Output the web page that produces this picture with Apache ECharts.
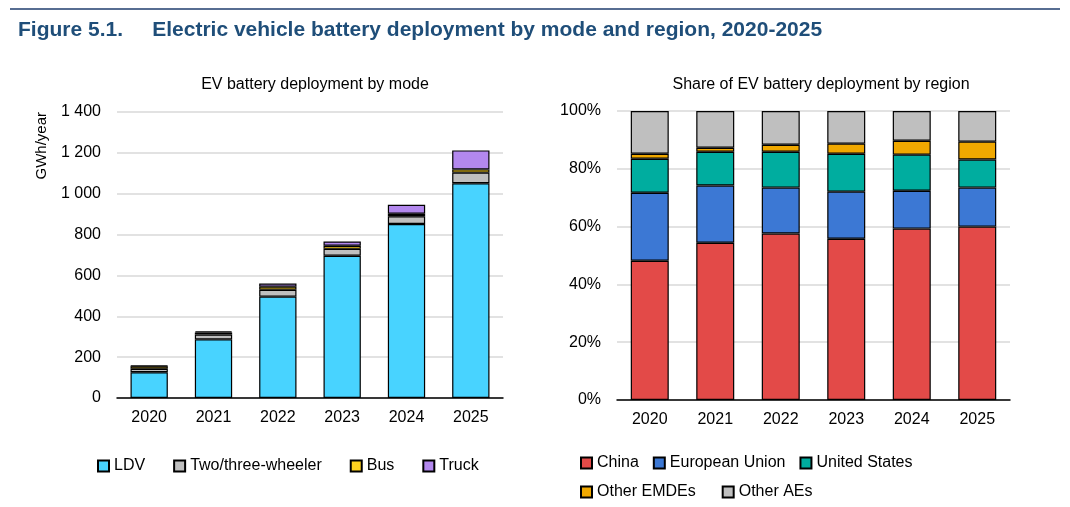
<!DOCTYPE html><html><head><meta charset="utf-8"><script src="https://cdn.jsdelivr.net/npm/echarts@6/dist/echarts.min.js"></script>
<style>body{margin:0;background:#fff}#c{width:1070px;height:507px}</style></head><body><div id="c"></div><script>
const years=['2020','2021','2022','2023','2024','2025'];
const ldv=[126,287,496,696,852,1051];
const twoThree=[17,24,34,34,38,52];
const bus=[13,10,15,15,12,16];
const truck=[2,5,15,21,44,93];
const china=[48.2,54.4,57.6,55.8,59.3,60.0];
const eu=[23.5,19.8,15.9,16.3,13.1,13.5];
const us=[11.8,11.7,12.4,13.1,12.5,9.7];
const emde=[1.7,1.4,2.4,3.5,4.8,6.2];
const ae=[14.8,12.7,11.7,11.3,10.3,10.6];
const ff='Liberation Sans, Arial, sans-serif';
const tx={color:'#000',fontFamily:ff,fontSize:16};
function bar(name,data,color,ax){return {name,type:'bar',stack:'s'+ax,data,xAxisIndex:ax,yAxisIndex:ax,barWidth:'58%',itemStyle:{color,borderColor:'#000',borderWidth:1.2}};}
const catAx=(i)=>({type:'category',gridIndex:i,data:years,axisLine:{lineStyle:{color:'#000',width:1.5}},axisTick:{lineStyle:{color:'#000',width:1.5},length:6},axisLabel:Object.assign({margin:12},tx)});
const ch=echarts.init(document.getElementById('c'));
ch.setOption({animation:false,
graphic:[{type:'line',shape:{x1:10,y1:9,x2:1060,y2:9},style:{stroke:'#1f3c6e',lineWidth:1.5}},
{type:'text',left:18,top:20,style:{text:'Figure 5.1.     Electric vehicle battery deployment by mode and region, 2020-2025',fill:'#1f4e79',font:'bold 21px '+ff}}],
title:[{text:'EV battery deployment by mode',left:310,top:72,textAlign:'center',textStyle:{fontWeight:'normal',fontSize:16,fontFamily:ff,color:'#000'}},
{text:'Share of EV battery deployment by region',left:816,top:72,textAlign:'center',textStyle:{fontWeight:'normal',fontSize:16,fontFamily:ff,color:'#000'}}],
grid:[{left:117,top:112,width:386,height:286},{left:617,top:111,width:393,height:289}],
xAxis:[catAx(0),catAx(1)],
yAxis:[{type:'value',gridIndex:0,min:0,max:1400,interval:200,name:'GWh/year',nameLocation:'end',nameRotate:90,nameGap:0,nameTextStyle:{fontFamily:ff,fontSize:15,color:'#000',align:'right',verticalAlign:'bottom',padding:[0,0,68,0]},axisLabel:Object.assign({margin:16,formatter:v=>v>=1000?String(v).replace(/(\d)(\d{3})$/,'$1 $2'):v},tx),splitLine:{lineStyle:{color:'#d9d9d9',width:1.5}}},
{type:'value',gridIndex:1,min:0,max:100,interval:20,axisLabel:Object.assign({margin:16,formatter:'{value}%'},tx),splitLine:{lineStyle:{color:'#d9d9d9',width:1.5}}}],
legend:[{data:['LDV','Two/three-wheeler','Bus','Truck'],left:92,top:453,itemWidth:11,itemHeight:11,itemGap:28,textStyle:tx,icon:'rect'},
{data:['China','European Union','United States'],left:575,top:450,itemWidth:11,itemHeight:11,itemGap:14,textStyle:tx,icon:'rect'},
{data:['Other EMDEs','Other AEs'],left:575,top:479,itemWidth:11,itemHeight:11,itemGap:26,textStyle:tx,icon:'rect'}],
series:[bar('LDV',ldv,'#48d3ff',0),bar('Two/three-wheeler',twoThree,'#bfbfbf',0),bar('Bus',bus,'#ffd21f',0),bar('Truck',truck,'#b388ee',0),
bar('China',china,'#e34a48',1),bar('European Union',eu,'#3c78d4',1),bar('United States',us,'#00ad9f',1),bar('Other EMDEs',emde,'#f0a800',1),bar('Other AEs',ae,'#bfbfbf',1)]
});
</script></body></html>
